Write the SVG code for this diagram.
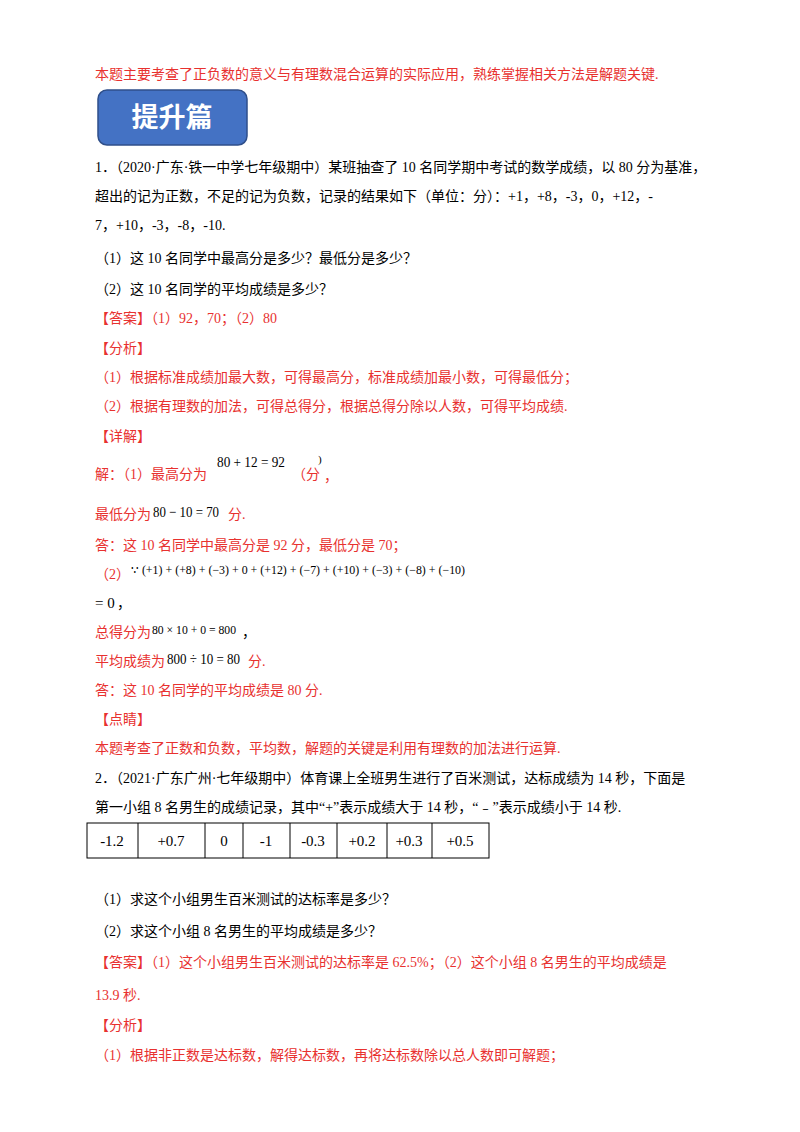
<svg xmlns="http://www.w3.org/2000/svg" width="800" height="1132" viewBox="0 0 800 1132">
<style>
text{font-family:"Liberation Serif","Noto Sans CJK SC",serif;font-size:14px;fill:#000}
.r{fill:#e8312f}
.m{font-family:"Liberation Serif",serif;font-size:15px;fill:#000}
.c{text-anchor:middle}
</style>
<rect width="800" height="1132" fill="#fff"/>
<text class="r" x="95" y="79">本题主要考查了正负数的意义与有理数混合运算的实际应用，熟练掌握相关方法是解题关键.</text>
<rect x="98" y="90" width="149" height="55" rx="9" fill="#4472c4" stroke="#2f4f8a" stroke-width="1.5"/>
<text x="172" y="127" class="c" style="font-size:27px;font-weight:bold;fill:#fff">提升篇</text>
<text x="95" y="172">1．（2020·广东·铁一中学七年级期中）某班抽查了 10 名同学期中考试的数学成绩，以 80 分为基准，</text>
<text x="95" y="201">超出的记为正数，不足的记为负数，记录的结果如下（单位：分）：+1，+8，-3，0，+12，-</text>
<text x="95" y="230">7，+10，-3，-8，-10.</text>
<text x="95" y="263">（1）这 10 名同学中最高分是多少？最低分是多少？</text>
<text x="95" y="294">（2）这 10 名同学的平均成绩是多少？</text>
<text class="r" x="95" y="323">【答案】（1）92，70；（2）80</text>
<text class="r" x="95" y="353">【分析】</text>
<text class="r" x="95" y="382">（1）根据标准成绩加最大数，可得最高分，标准成绩加最小数，可得最低分；</text>
<text class="r" x="95" y="411">（2）根据有理数的加法，可得总得分，根据总得分除以人数，可得平均成绩.</text>
<text class="r" x="95" y="441">【详解】</text>
<text class="r" x="95" y="479">解：（1）最高分为</text>
<text class="m" x="217" y="467" textLength="68" lengthAdjust="spacingAndGlyphs">80 + 12 = 92</text>
<text class="r" x="292" y="479">（分</text>
<text class="m" x="318" y="463" style="font-size:11px">)</text>
<text class="r" x="324" y="481">，</text>
<text class="r" x="95" y="519">最低分为</text>
<text class="m" x="153" y="517" textLength="66" lengthAdjust="spacingAndGlyphs">80 − 10 = 70</text>
<text class="r" x="228" y="519">分.</text>
<text class="r" x="95" y="550">答：这 10 名同学中最高分是 92 分，最低分是 70；</text>
<text class="r" x="95" y="579">（2）</text>
<text class="m" x="131" y="574" style="font-size:12px" textLength="334" lengthAdjust="spacingAndGlyphs">∵ (+1) + (+8) + (−3) + 0 + (+12) + (−7) + (+10) + (−3) + (−8) + (−10)</text>
<text class="m" x="95" y="608">= 0</text>
<text x="117" y="608">，</text>
<text class="r" x="95" y="637">总得分为</text>
<text class="m" x="152" y="634" style="font-size:13px" textLength="84" lengthAdjust="spacingAndGlyphs">80 × 10 + 0 = 800</text>
<text x="242" y="637">，</text>
<text class="r" x="95" y="666">平均成绩为</text>
<text class="m" x="167" y="664" textLength="73" lengthAdjust="spacingAndGlyphs">800 ÷ 10 = 80</text>
<text class="r" x="248" y="666">分.</text>
<text class="r" x="95" y="695">答：这 10 名同学的平均成绩是 80 分.</text>
<text class="r" x="95" y="724">【点睛】</text>
<text class="r" x="95" y="753">本题考查了正数和负数，平均数，解题的关键是利用有理数的加法进行运算.</text>
<text x="95" y="783">2．（2021·广东广州·七年级期中）体育课上全班男生进行了百米测试，达标成绩为 14 秒，下面是</text>
<text x="95" y="812">第一小组 8 名男生的成绩记录，其中“+”表示成绩大于 14 秒，“﹣”表示成绩小于 14 秒.</text>
<g stroke="#000" stroke-width="1" fill="none">
<rect x="87" y="823" width="402" height="35"/>
<path d="M138 823V858M205 823V858M243 823V858M290 823V858M337 823V858M387 823V858M432 823V858"/>
</g>
<g>
<text class="m c" x="112" y="846">-1.2</text>
<text class="m c" x="171" y="846">+0.7</text>
<text class="m c" x="224" y="846">0</text>
<text class="m c" x="266" y="846">-1</text>
<text class="m c" x="313" y="846">-0.3</text>
<text class="m c" x="362" y="846">+0.2</text>
<text class="m c" x="409" y="846">+0.3</text>
<text class="m c" x="460" y="846">+0.5</text>
</g>
<text x="95" y="904">（1）求这个小组男生百米测试的达标率是多少？</text>
<text x="95" y="936">（2）求这个小组 8 名男生的平均成绩是多少？</text>
<text class="r" x="95" y="967">【答案】（1）这个小组男生百米测试的达标率是 62.5%；（2）这个小组 8 名男生的平均成绩是</text>
<text class="r" x="95" y="1000">13.9 秒.</text>
<text class="r" x="95" y="1030">【分析】</text>
<text class="r" x="95" y="1060">（1）根据非正数是达标数，解得达标数，再将达标数除以总人数即可解题；</text>
</svg>
